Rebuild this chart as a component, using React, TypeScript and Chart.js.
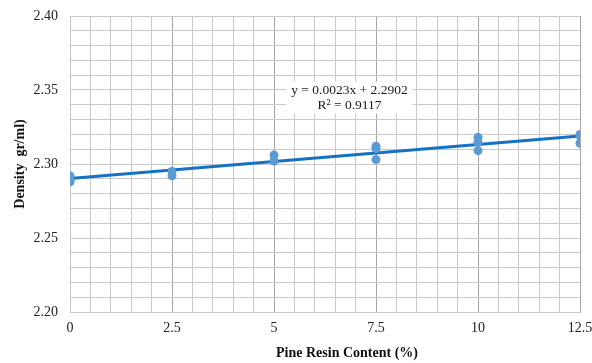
import React, { useEffect, useRef } from "react";
import { Chart, registerables } from "chart.js";

Chart.register(...registerables);

// Pine resin content (%) and measured density (gr/ml) of each sample
const resinContent = [0, 0, 0, 2.5, 2.5, 5, 5, 7.5, 7.5, 7.5, 10, 10, 10, 12.5, 12.5, 12.5];
const density = [2.292, 2.289, 2.288, 2.295, 2.292, 2.306, 2.302, 2.312, 2.3105, 2.303, 2.318, 2.3145, 2.309, 2.32, 2.319, 2.314];

// Linear trendline coefficients
const slope = 0.0023;
const intercept = 2.2902;
const rSquared = 0.9117;
const trendRange = [0, 12.5];

const xMajorTicks = [0, 2.5, 5, 7.5, 10, 12.5];
const yMajorTicks = [2.2, 2.25, 2.3, 2.35, 2.4];

const xTitle = "Pine Resin Content (%)";
const yTitle = "Density  gr/ml)";

const serif = "'Liberation Serif', 'Times New Roman', serif";

const isMajor = (v: number, list: number[]) => list.some((m) => Math.abs(m - v) < 1e-6);

// Trendline equation box inside the plot
const equationLabel = {
  id: "equationLabel",
  afterDatasetsDraw(chart: any) {
    const { ctx, scales } = chart;
    const cx = scales.x.getPixelForValue(6.85);
    const cy = scales.y.getPixelForValue(2.3448);
    const lines = [
      `y = ${slope.toFixed(4)}x + ${intercept.toFixed(4)}`,
      `R² = ${rSquared.toFixed(4)}`,
    ];
    ctx.save();
    ctx.font = `13.5px ${serif}`;
    const w = Math.max(...lines.map((l) => ctx.measureText(l).width)) + 10;
    const h = 32;
    ctx.fillStyle = "#ffffff";
    ctx.fillRect(cx - w / 2, cy - h / 2, w, h);
    ctx.fillStyle = "#1a1a1a";
    ctx.textAlign = "center";
    ctx.textBaseline = "middle";
    ctx.fillText(lines[0], cx, cy - 7.5);
    ctx.fillText(lines[1], cx, cy + 7.5);
    ctx.restore();
  },
};

// Horizontal axis title, centred under the whole chart box
const xAxisTitle = {
  id: "xAxisTitle",
  afterDraw(chart: any) {
    const { ctx, width, height } = chart;
    ctx.save();
    ctx.font = `bold 14px ${serif}`;
    ctx.fillStyle = "#111";
    ctx.textAlign = "center";
    ctx.textBaseline = "middle";
    ctx.fillText(xTitle, width / 2 + 51, height - 10);
    ctx.restore();
  },
};

export default function App() {
  const canvasRef = useRef<HTMLCanvasElement | null>(null);

  useEffect(() => {
    if (!canvasRef.current) return;
    const points = resinContent.map((x, i) => ({ x, y: density[i] }));
    const trend = trendRange.map((x) => ({ x, y: slope * x + intercept }));

    const chart = new Chart(canvasRef.current, {
      type: "scatter",
      data: {
        datasets: [
          {
            label: "Density",
            data: points,
            backgroundColor: "#5B9BD5",
            borderColor: "#5B9BD5",
            pointRadius: 4.5,
            pointBorderWidth: 0,
            order: 1,
          },
          {
            label: "Linear",
            data: trend,
            showLine: true,
            borderColor: "#1372C3",
            borderWidth: 3,
            pointRadius: 0,
            order: 2,
          },
        ],
      },
      options: {
        animation: false,
        responsive: false,
        maintainAspectRatio: false,
        layout: { padding: { left: 12, right: 12, top: 16, bottom: 2 } },
        plugins: { legend: { display: false }, tooltip: { enabled: false } },
        scales: {
          x: {
            type: "linear",
            min: 0,
            max: 12.5,
            afterFit: (s: any) => {
              s.height = 49;
              s.paddingLeft = 0;
              s.paddingRight = 0;
            },
            ticks: {
              stepSize: 0.5,
              autoSkip: false,
              maxRotation: 0,
              padding: 8,
              color: "#222",
              font: { family: serif, size: 14 },
              callback: (v: any) => (isMajor(Number(v), xMajorTicks) ? String(Number(v)) : ""),
            },
            grid: {
              drawTicks: false,
              color: (c: any) => (isMajor(c.tick.value, xMajorTicks) ? "#a6a6a6" : "#c8c8c8"),
              lineWidth: 1,
            },
            border: { color: "#c8c8c8" },
          },
          y: {
            type: "linear",
            min: 2.2,
            max: 2.4,
            afterFit: (s: any) => {
              s.width = 58;
              s.paddingTop = 0;
              s.paddingBottom = 0;
            },
            ticks: {
              stepSize: 0.01,
              autoSkip: false,
              padding: 12,
              color: "#222",
              font: { family: serif, size: 14 },
              callback: (v: any) => (isMajor(Number(v), yMajorTicks) ? Number(v).toFixed(2) : ""),
            },
            grid: { drawTicks: false, color: "#c8c8c8", lineWidth: 1 },
            border: { color: "#c8c8c8" },
            title: {
              display: true,
              text: yTitle,
              color: "#111",
              font: { family: serif, size: 14, weight: "bold" },
              padding: 0,
            },
          },
        },
      },
      plugins: [equationLabel, xAxisTitle],
    });
    return () => chart.destroy();
  }, []);

  return (
    <div style={{ position: "fixed", left: 0, top: 0, width: 592, height: 363, background: "#fff" }}>
      <canvas ref={canvasRef} width={592} height={363} style={{ width: 592, height: 363 }} />
    </div>
  );
}
